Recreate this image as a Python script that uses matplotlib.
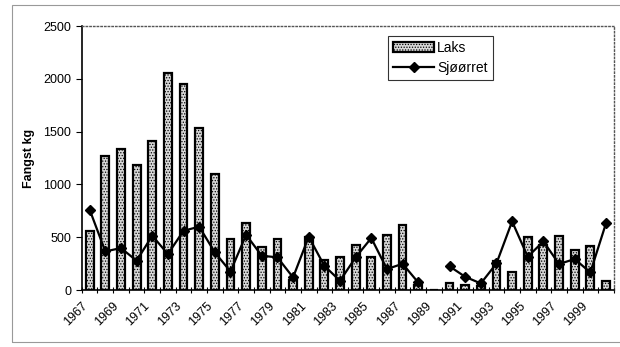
import numpy as np
import matplotlib.pyplot as plt
from matplotlib.patches import Rectangle

plt.rcParams['font.family'] = ['Liberation Sans', 'DejaVu Sans']
plt.rcParams['hatch.linewidth'] = 0.6

years = np.arange(1967, 2001)
#catch of salmon (Laks), kg per year
laks = [556, 1265, 1335, 1180, 1410, 2055, 1950, 1530, 1095, 480,
        635, 405, 485, 100, 500, 285, 310, 430, 310, 520,
        612, 50, 0, 63, 50, 40, 280, 170, 500, 430,
        510, 380, 415, 90]
#catch of sea trout (Sjøørret), kg per year; no data for 1989
sjoorret = [761, 366, 398, 278, 515, 341, 562, 600, 357, 176,
            523, 325, 310, 120, 505, 230, 88, 310, 493, 199,
            249, 72, np.nan, 225, 126, 63, 252, 650, 316, 461,
            247, 294, 167, 632]
tick_years = years[::2]

x = np.arange(len(years))

fig = plt.figure(figsize=(6.2, 3.47), dpi=100)
ax = fig.add_axes([0.132, 0.164, 0.858, 0.761])

bars = ax.bar(x, laks, width=0.5, facecolor='#d8d8d8', edgecolor='black',
              linewidth=1.6, hatch='......', label='Laks', zorder=2)
line, = ax.plot(x, sjoorret, color='black', linewidth=1.6, marker='D',
                markersize=5.5, label='Sjøørret', zorder=3)

ax.set_xlim(-0.5, len(years) - 0.5)
ax.set_ylim(0, 2500)
ax.set_yticks(np.arange(0, 2501, 500))

#tick marks between categories, labels on every second year
ax.set_xticks(np.arange(-0.5, len(years), 1.0))
ax.set_xticklabels([])
ax.tick_params(axis='x', which='major', direction='inout', length=4, width=0.8)
ax.set_xticks(x[::2], minor=True)
ax.set_xticklabels([str(y) for y in tick_years], minor=True,
                   rotation=45, ha='right', va='top', fontsize=9)
ax.tick_params(axis='x', which='minor', length=0, pad=7)
ax.tick_params(axis='y', direction='out', length=4, width=0.8, labelsize=9)

ax.set_ylabel('Fangst kg', fontsize=9, fontweight='bold', labelpad=6)

for side in ['left', 'bottom']:
    ax.spines[side].set_linewidth(1.2)
for side in ['top', 'right']:
    ax.spines[side].set_linestyle(':')
    ax.spines[side].set_color('#555555')
    ax.spines[side].set_linewidth(1.0)

leg = ax.legend([bars, line], ['Laks', 'Sjøørret'], loc='upper right',
                bbox_to_anchor=(0.772, 0.962),
                fontsize=10, fancybox=False, frameon=True, edgecolor='black',
                borderpad=0.35, labelspacing=0.45, handlelength=3.0,
                handletextpad=0.2, borderaxespad=0)
leg.get_frame().set_linewidth(0.8)

#outer frame round the figure
fig.patches.append(Rectangle((12 / 620, 5 / 347), 1.0, 337 / 347,
                             transform=fig.transFigure, fill=False,
                             edgecolor='#999999', linewidth=0.8))

fig.savefig('out.png', dpi=100)
